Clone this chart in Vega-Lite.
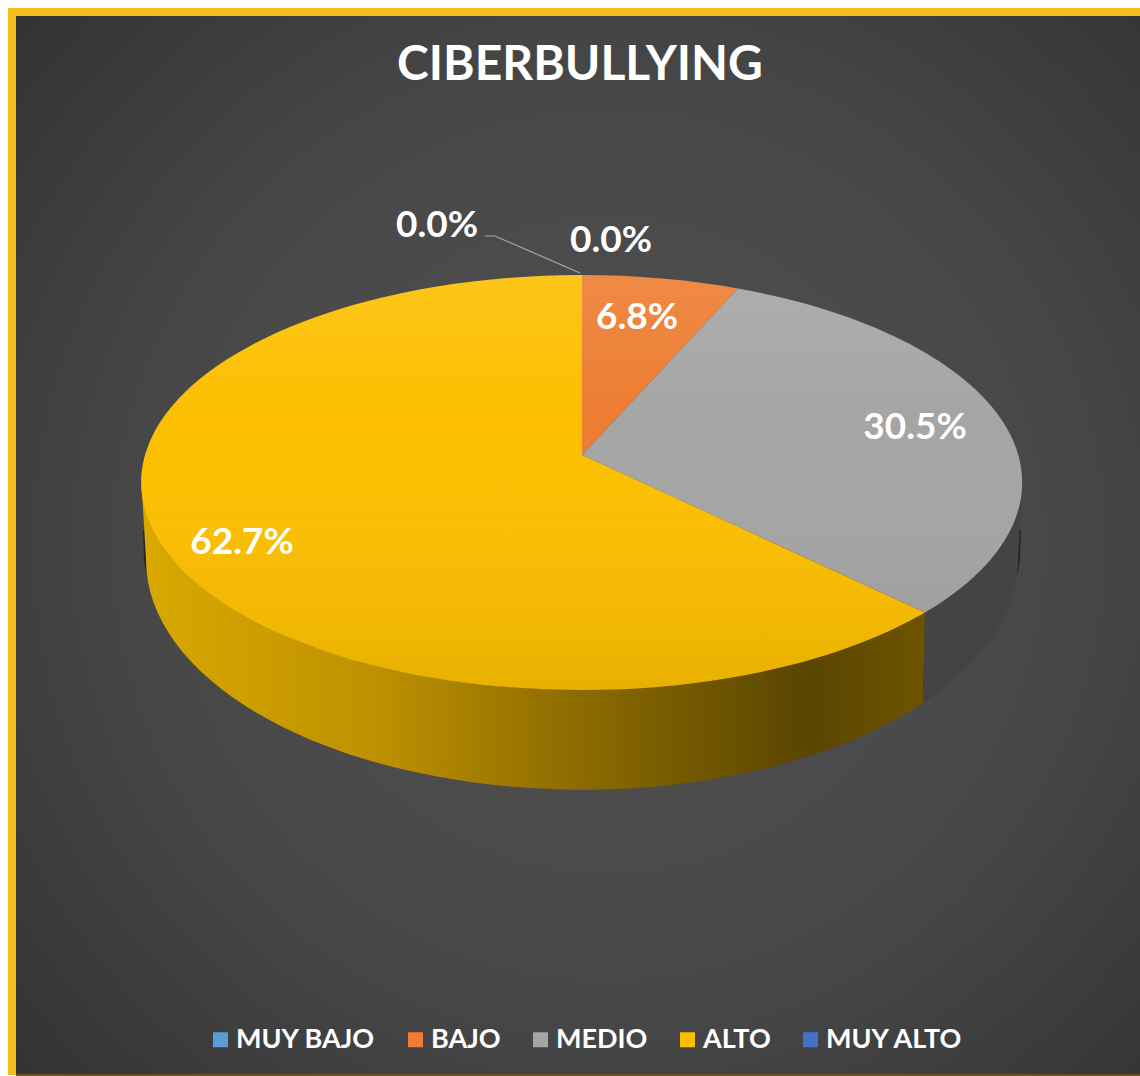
{
"$schema":"https://vega.github.io/schema/vega-lite/v6.json",
"width":1140,"height":1076,"padding":0,"autosize":"none","background":"#ffffff",
"config":{"view":{"stroke":null},"axis":{"domain":false,"grid":false,"ticks":false,"labels":false,"title":null}},
"data":{"values":[
{"nivel":"MUY BAJO","share":0.0},
{"nivel":"BAJO","share":0.068},
{"nivel":"MEDIO","share":0.305},
{"nivel":"ALTO","share":0.627},
{"nivel":"MUY ALTO","share":0.0}
]},
"encoding":{
"x":{"datum":0,"type":"quantitative","scale":{"domain":[-582,558]},"axis":null},
"y":{"datum":0,"type":"quantitative","scale":{"domain":[-455,621],"range":[0,1076]},"axis":null}
},
"layer":[
{"data":{"values":[{"capa":"borde"}]},
"mark":{"type":"rect","fill":"#f4bd1c"},
"encoding":{"x":{"datum":-574,"type":"quantitative","scale":{"domain":[-582,558]},"axis":null},"x2":{"datum":620},
"y":{"datum":-447,"type":"quantitative","scale":{"domain":[-455,621],"range":[0,1076]},"axis":null},"y2":{"datum":620}}},
{"data":{"values":[{"capa":"fondo"}]},
"mark":{"type":"rect","fill":{"gradient":"radial","x1":0.5,"y1":0.5,"r1":0,"x2":0.5,"y2":0.5,"r2":0.72,"stops":[{"offset":0,"color":"#525252"},{"offset":0.55,"color":"#474747"},{"offset":1,"color":"#2f2f2f"}]}},
"encoding":{"x":{"datum":-566,"type":"quantitative","scale":{"domain":[-582,558]},"axis":null},"x2":{"datum":620},
"y":{"datum":-439,"type":"quantitative","scale":{"domain":[-455,621],"range":[0,1076]},"axis":null},"y2":{"datum":619}}},
{"data":{"values":[{"capa":"base"}]},
"mark":{"type":"rect","fill":"#6b5412"},
"encoding":{"x":{"datum":-566,"type":"quantitative","scale":{"domain":[-582,558]},"axis":null},"x2":{"datum":620},
"y":{"datum":619,"type":"quantitative","scale":{"domain":[-455,621],"range":[0,1076]},"axis":null},"y2":{"datum":640}}},
{"data":{"values":[{"capa":"sombra"}]},
"mark":{"type":"point","filled":true,"size":4,"opacity":0.7,"fill":"#161616","stroke":null,
"shape":"M-439,75 L-438,105 A439,235 0 0 0 438,105 L439,75 Z"}},
{"transform":[{"filter":"datum.nivel==='MEDIO'"}],
"mark":{"type":"point","filled":true,"size":4,"fill":"#444444","stroke":null,"opacity":1,
"shape":"M343,157.5 A440.5,207.5 0 0 0 440.5,27.5 L436,105 A436,230 0 0 1 341,248 Z"}},
{"transform":[{"filter":"datum.nivel==='ALTO'"}],
"mark":{"type":"point","size":4,"stroke":null,"opacity":1,"filled":true,
"fill":{"gradient":"linear","x1":0,"y1":0,"x2":1,"y2":0,"stops":[{"offset":0,"color":"#d9a900"},{"offset":0.3,"color":"#bd9100"},{"offset":0.55,"color":"#8d6c00"},{"offset":0.85,"color":"#5a4500"},{"offset":1,"color":"#6e5400"}]},
"shape":"M343,157.5 A440.5,207.5 0 0 1 -440.5,27.5 L-436,105 A436,230 0 0 0 341,248 Z"}},
{"transform":[{"filter":"datum.share>0"}],
"mark":{"type":"point","filled":true,"size":4,"opacity":1},
"encoding":{
"color":{"field":"nivel","type":"nominal","scale":{"domain":["MUY BAJO","BAJO","MEDIO","ALTO","MUY ALTO"],"range":["#5b9bd5","#ed7d31","#a5a5a5","#fcbf00","#4472c4"]},
"legend":{"title":null,"orient":"none","direction":"horizontal","columns":5,"legendX":207,"legendY":1026,"padding":0,"symbolType":"square","symbolSize":225,"symbolOpacity":1,"symbolStrokeWidth":0,"labelFont":"Lato","labelFontWeight":"bold","labelFontSize":27,"labelColor":"#ffffff","labelOffset":2,"columnPadding":26,"labelLimit":300}},
"shape":{"field":"nivel","type":"nominal","legend":null,"scale":{"domain":["BAJO","MEDIO","ALTO"],"range":[
"M0,0 L0,-180 A440.5,207.5 0 0 1 156,-166.5 Z",
"M0,0 L156,-166.5 A440.5,207.5 0 0 1 343,157.5 Z",
"M0,0 L343,157.5 A440.5,207.5 0 1 1 0,-180 Z"]}}
}},
{"data":{"values":[{"capa":"brillo"}]},
"mark":{"type":"point","size":4,"stroke":null,"opacity":1,"filled":true,
"fill":{"gradient":"linear","x1":0,"y1":0,"x2":0,"y2":1,"stops":[{"offset":0,"color":"rgba(255,255,255,0.1)"},{"offset":0.35,"color":"rgba(255,255,255,0)"},{"offset":1,"color":"rgba(0,0,0,0.08)"}]},
"shape":"M-440.5,27.5 A440.5,207.5 0 0 1 440.5,27.5 A440.5,207.5 0 0 1 -440.5,27.5 Z"}},
{"transform":[{"filter":"datum.nivel==='MUY ALTO'"}],
"mark":{"type":"point","filled":false,"size":4,"fill":null,"stroke":"#a8a8a8","strokeWidth":1.2,"opacity":1,
"shape":"M-97,-219 L-87,-219 L-2,-182"}},
{"transform":[{"filter":"datum.nivel==='MUY ALTO'"}],
"mark":{"type":"text","font":"Lato","fontWeight":"bold","fontSize":37,"fill":"#ffffff","align":"center","baseline":"middle","dx":-145,"dy":-229},
"encoding":{"text":{"field":"share","type":"quantitative","format":".1%"}}},
{"transform":[{"filter":"datum.nivel==='MUY BAJO'"}],
"mark":{"type":"text","font":"Lato","fontWeight":"bold","fontSize":37,"fill":"#ffffff","align":"center","baseline":"middle","dx":29,"dy":-214},
"encoding":{"text":{"field":"share","type":"quantitative","format":".1%"}}},
{"transform":[{"filter":"datum.nivel==='BAJO'"}],
"mark":{"type":"text","font":"Lato","fontWeight":"bold","fontSize":37,"fill":"#ffffff","align":"center","baseline":"middle","dx":55,"dy":-137},
"encoding":{"text":{"field":"share","type":"quantitative","format":".1%"}}},
{"transform":[{"filter":"datum.nivel==='MEDIO'"}],
"mark":{"type":"text","font":"Lato","fontWeight":"bold","fontSize":37,"fill":"#ffffff","align":"center","baseline":"middle","dx":333,"dy":-27},
"encoding":{"text":{"field":"share","type":"quantitative","format":".1%"}}},
{"transform":[{"filter":"datum.nivel==='ALTO'"}],
"mark":{"type":"text","font":"Lato","fontWeight":"bold","fontSize":37,"fill":"#ffffff","align":"center","baseline":"middle","dx":-340,"dy":88},
"encoding":{"text":{"field":"share","type":"quantitative","format":".1%"}}},
{"data":{"values":[{"titulo":"CIBERBULLYING"}]},
"mark":{"type":"text","font":"Lato","fontWeight":"bold","fontSize":48,"fill":"#ffffff","align":"center","baseline":"middle"},
"encoding":{"x":{"datum":-2,"type":"quantitative","scale":{"domain":[-582,558]},"axis":null},
"y":{"datum":-389,"type":"quantitative","scale":{"domain":[-455,621],"range":[0,1076]},"axis":null},
"text":{"field":"titulo","type":"nominal"}}}
]
}
